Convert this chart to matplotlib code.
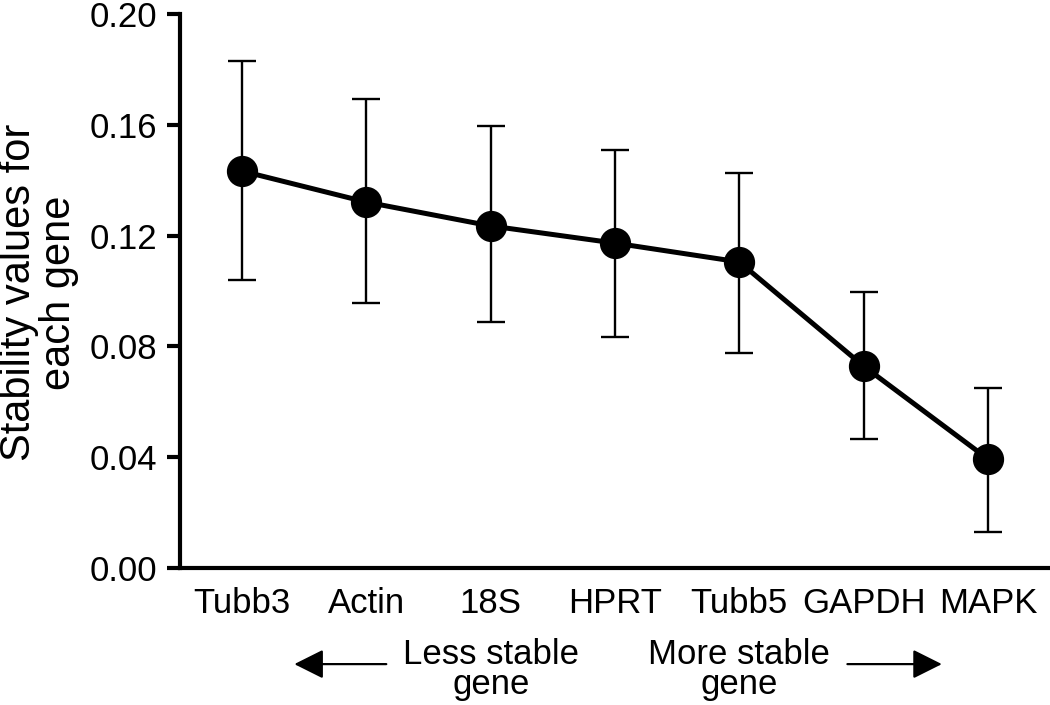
import numpy as np
import matplotlib
matplotlib.use("Agg")
import matplotlib.pyplot as plt
from matplotlib.transforms import blended_transform_factory

plt.rcParams['font.family'] = ['Liberation Sans', 'DejaVu Sans']

genes = ["Tubb3", "Actin", "18S", "HPRT", "Tubb5", "GAPDH", "MAPK"]
stability = [0.1433, 0.1321, 0.1235, 0.1173, 0.1105, 0.0729, 0.0394]
err_upper = [0.1830, 0.1693, 0.1596, 0.1509, 0.1426, 0.0996, 0.0650]
err_lower = [0.1040, 0.0957, 0.0888, 0.0834, 0.0776, 0.0466, 0.0130]
yticks = [0.00, 0.04, 0.08, 0.12, 0.16, 0.20]

x = np.arange(len(genes))
stability = np.array(stability)
yerr = [stability - np.array(err_lower), np.array(err_upper) - stability]

fig = plt.figure(figsize=(10.5, 7.05), dpi=100)
ax = fig.add_axes([0.1714, 0.1943, 0.8286, 0.7858])

ax.errorbar(x, stability, yerr=yerr, fmt='none', ecolor='black',
            elinewidth=1.7, capsize=10, capthick=1.7, zorder=2)
ax.plot(x, stability, color='black', lw=3.6, marker='o', ms=21.5,
        zorder=3, clip_on=False)

ax.set_xlim(-0.5, 6.5)
ax.set_ylim(0, 0.2)
ax.set_yticks(yticks)
ax.set_yticklabels(["%.2f" % v for v in yticks])
ax.set_xticks(x)
ax.set_xticklabels(genes)

for s in ['top', 'right']:
    ax.spines[s].set_visible(False)
for s in ['left', 'bottom']:
    ax.spines[s].set_linewidth(3)
ax.tick_params(axis='y', length=9.5, width=3, pad=7, labelsize=25)
ax.tick_params(axis='x', length=0, pad=14, labelsize=25)

fig.text(0.037, 0.585, "Stability values for\neach gene", rotation=90,
         ha='center', va='center', fontsize=30, linespacing=1.0)

# direction hints under the gene names
tr = blended_transform_factory(ax.transData, fig.transFigure)
ax.text(2.0, 0.095, "Less stable\ngene", transform=tr,
        fontsize=25, ha='center', va='top', linespacing=0.9)
ax.text(4.0, 0.095, "More stable\ngene", transform=tr,
        fontsize=25, ha='center', va='top', linespacing=0.9)

arrow = dict(arrowstyle='-|>,head_length=1.0,head_width=0.5', color='black',
             lw=1.6, mutation_scale=18, shrinkA=0, shrinkB=0)
ax.annotate('', xy=(0.42, 0.058), xytext=(1.16, 0.058),
            xycoords=tr, textcoords=tr,
            arrowprops=arrow, annotation_clip=False)
ax.annotate('', xy=(5.63, 0.058), xytext=(4.87, 0.058),
            xycoords=tr, textcoords=tr,
            arrowprops=arrow, annotation_clip=False)

fig.savefig('out.png', dpi=100)
